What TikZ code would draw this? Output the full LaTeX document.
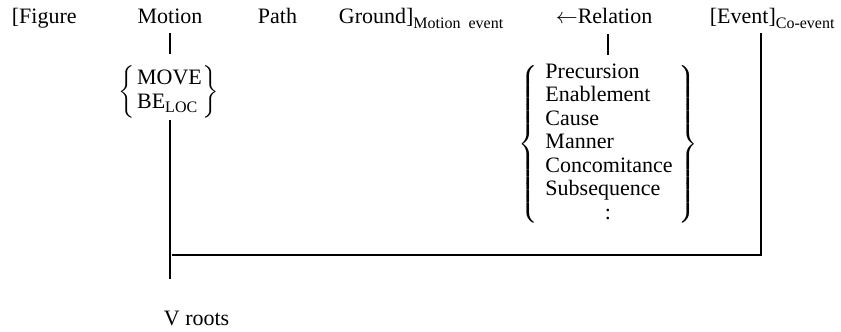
\documentclass[tikz,border=0pt]{standalone}
\usepackage{amsmath}
\usepackage{fontspec}
\setmainfont{Liberation Serif}
\usepackage{tikz}

\newcommand{\lowsub}[1]{\raisebox{-2pt}{\fontsize{8}{8}\selectfont #1}}

\begin{document}
\begin{tikzpicture}[x=0.5pt,y=-0.5pt,line width=0.9pt,
        every node/.style={inner sep=0pt,font=\fontsize{11}{12}\selectfont},
        word/.style={anchor=base west}]
            \def\topy{24}
            \def\joiny{255}

            \useasboundingbox (0,0) rectangle (841,332);

            % Top row
            \node[word] (figure) at (11,\topy) {[Figure};
            \node[anchor=base] (motion) at (170,\topy) {Motion};
            \node[word] (path) at (257,\topy) {Path};
            \node[word] (ground) at (338,\topy) {Ground]\lowsub{Motion\enspace event}};
            \node[word] (relation) at (555,\topy) {$\leftarrow$Relation};
            \node[word] (event) at (709,\topy) {[Event]\lowsub{Co-event}};

            % Choice sets
            \node[anchor=north] (moveset) at (169,65)
                {$\left\{\begin{tabular}{@{\hspace{1pt}}l@{\hspace{0.5pt}}}
                    MOVE\\BE\lowsub{LOC}
                \end{tabular}\right\}$};
            \node[anchor=north,font=\fontsize{11}{11.75}\selectfont] (relset) at (608,61)
                {$\left\{\begin{tabular}{@{\hspace{4pt}}l@{\hspace{3pt}}}
                    Precursion\\Enablement\\Cause\\Manner\\Concomitance\\Subsequence\\
                    \multicolumn{1}{c}{:}
                \end{tabular}\right\}$};

            % Bottom
            \node[word] (vroots) at (163,325) {V roots};

            % Draw connectors
            \draw[shorten <=4pt,shorten >=5.5pt] (motion) -- (motion |- moveset.north);
            \draw[shorten <=4.5pt,shorten >=3pt] (relset.north |- relation.south) -- (relset.north);
            \draw[shorten <=0.5pt,shorten >=15.5pt] (motion |- moveset.south) -- (motion |- vroots.north);
            \coordinate (evfoot) at (event.south -| 761,0);
            \coordinate (join) at ([xshift=1pt]motion |- 0,\joiny);
            \draw[shorten <=2pt] (evfoot) |- (join);
        \end{tikzpicture}
\end{document}
